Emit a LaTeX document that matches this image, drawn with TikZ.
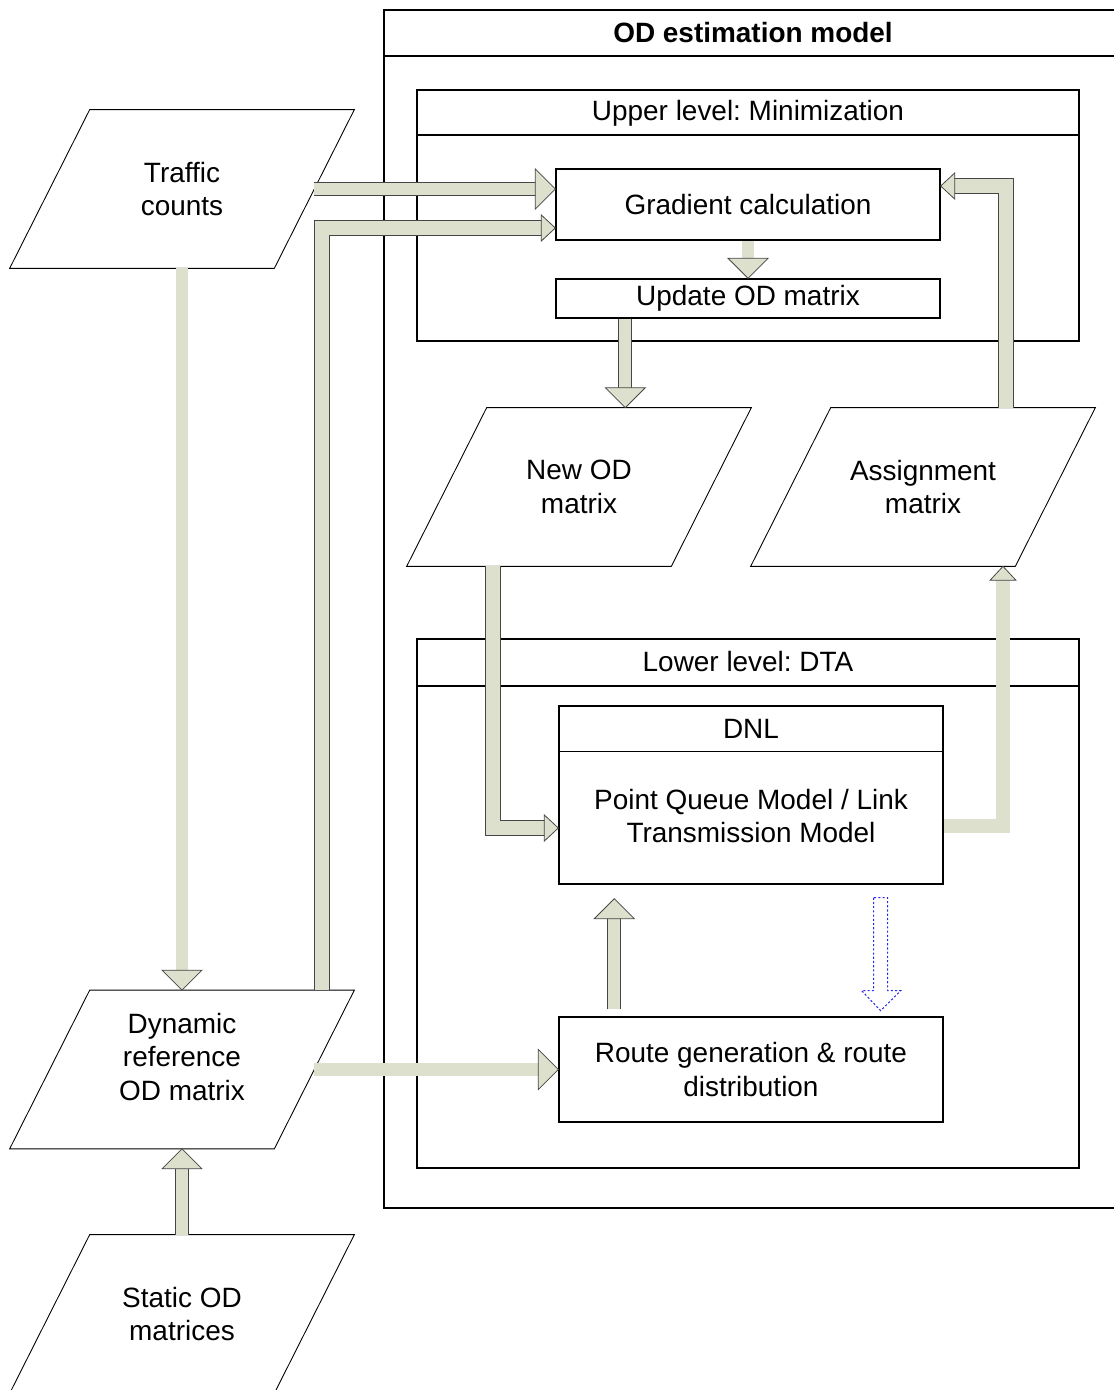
\documentclass[tikz,border=0pt]{standalone}
\usepackage{fontspec}
\setmainfont{Liberation Sans}
\usetikzlibrary{calc}
\definecolor{shaftfill}{RGB}{221,224,204}
\definecolor{shaftline}{RGB}{70,70,70}
\definecolor{dotblue}{RGB}{40,40,230}
\newcommand\ioframe[1]{\draw[line width=0.5pt] ($(#1.north west)+(40,0)$) -- ($(#1.north east)+(40,0)$)
  -- ($(#1.south east)+(-40,0)$) -- ($(#1.south west)+(-40,0)$) -- cycle;}
\frenchspacing

\begin{document}
\begin{tikzpicture}[x=0.02cm,y=-0.02cm,
      every node/.style={font=\fontsize{15.9}{19}\selectfont,align=center},
      box/.style={draw,line width=0.8pt,minimum width=7.68cm,inner sep=0pt},
      panel/.style={draw,line width=0.8pt},
      iobox/.style={minimum width=5.28cm,minimum height=3.16cm,inner sep=0pt},
      fat/.style={draw=shaftline,line width=0.45pt,double=shaftfill,double distance=#1},
      tipbig/.style={shorten >=0.38cm},
      tipsmall/.style={shorten >=0.26cm},
      headbig/.pic={\draw[draw=shaftline,line width=0.45pt,fill=shaftfill] (0,0) -- (-20,20) -- (-20,-20) -- cycle;},
      headsmall/.pic={\draw[draw=shaftline,line width=0.45pt,fill=shaftfill] (0,0) -- (-14,13) -- (-14,-13) -- cycle;},
      dotarrow/.style={draw=dotblue,line width=0.6pt,dash pattern=on 1.2pt off 1.2pt}]
    \useasboundingbox (0,0) rectangle (1114,1390);

    \draw[panel] (384,10) rectangle (1120,1208);
    \draw[panel] (384,56) -- (1120,56);
    \node[font=\bfseries\fontsize{15.9}{19}\selectfont] (odtitle) at (753,33) {OD estimation model};

    \draw[panel] (417,90) rectangle (1079,341);
    \draw[panel] (417,135) -- (1079,135);
    \node (uptitle) at (748,113) {Upper level: Minimization};
    \node[box,minimum height=1.42cm] (grad) at (748,204.5) {Gradient calculation};
    \node[box,minimum height=0.78cm] (upd) at (748,298.5) {Update OD matrix};

    \node[iobox] (newod) at (579,487) {New OD\\matrix};
    \ioframe{newod}
    \node[iobox] (asg) at (923,487) {Assignment\\matrix};
    \ioframe{asg}

    \draw[panel] (417,639) rectangle (1079,1168);
    \draw[panel] (417,686) -- (1079,686);
    \node (lotitle) at (748,662) {Lower level: DTA};
    \node[box,minimum height=3.56cm] (dnl) at (751,795) {};
    \draw[line width=0.8pt] ($(dnl.north west)+(0,46)$) -- ($(dnl.north east)+(0,46)$);
    \node (dnltitle) at (751,729) {DNL};
    \node (dnltext) at (751,816) {Point Queue Model / Link\\Transmission Model};
    \node[box,minimum height=2.1cm] (route) at (751,1069.5) {Route generation \& route\\distribution};

    \node[iobox] (tc) at (182,189) {Traffic\\counts};
    \ioframe{tc}
    \node[iobox] (dyn) at (182,1069.5) {};
    \ioframe{dyn}
    \node (dyntext) at (182,1057) {Dynamic\\reference\\OD matrix};
    \node[iobox] (st) at (182,1314) {Static OD\\matrices};
    \ioframe{st}

    \coordinate (railL) at (322,0);
    \coordinate (railR) at (1006,0);
    \coordinate (railN) at (493,0);
    \coordinate (railA) at (1003,0);

    \draw[fat=6.9pt,tipbig] (tc.east) -- (tc.east -| grad.west);
    \pic at (tc.east -| grad.west) {headbig};

    \coordinate (g2) at ($(grad.west)+(0,23.5)$);
    \draw[fat=8pt,tipsmall] (railL |- dyn.north) -- (railL |- g2) -- (g2);
    \pic at (g2) {headsmall};

    \draw[fat=6.4pt,tipbig] (grad.south) -- (upd.north);
    \pic[rotate=-90] at (upd.north) {headbig};

    \coordinate (u1) at ($(upd.south west)+(70,0)$);
    \draw[fat=6.9pt,tipbig] (u1) -- (u1 |- newod.north);
    \pic[rotate=-90] at (u1 |- newod.north) {headbig};

    \coordinate (g3) at ($(grad.east)+(0,-18.5)$);
    \draw[fat=8pt,tipsmall] (railR |- asg.north) -- (railR |- g3) -- (g3);
    \pic[rotate=180] at (g3) {headsmall};

    \coordinate (d1) at ($(dnl.west)+(0,33)$);
    \draw[fat=8pt,tipsmall] (railN |- newod.south) -- (railN |- d1) -- (d1);
    \pic at (d1) {headsmall};

    \coordinate (d2) at ($(dnl.east)+(0,31)$);
    \draw[fat=7.5pt,tipsmall] (d2) -- (railA |- d2) -- (railA |- asg.south);
    \pic[rotate=90] at (railA |- asg.south) {headsmall};

    \coordinate (r1) at ($(route.north west)+(56,-7)$);
    \coordinate (r2) at ($(dnl.south west)+(56,14)$);
    \draw[fat=6.9pt,tipbig] (r1) -- (r2);
    \pic[rotate=90] at (r2) {headbig};

    \coordinate (b1) at ($(dnl.south east)+(-63,13)$);
    \draw[dotarrow] ($(b1)+(-7,0)$) -- ++(0,93) -- ++(-12,0) -- ($(b1)+(0,113)$)
      -- ($(b1)+(20,93)$) -- ++(-13,0) -- ($(b1)+(7,0)$) -- cycle;

    \draw[fat=6.4pt,tipbig] (tc.south) -- (dyn.north);
    \pic[rotate=-90] at (dyn.north) {headbig};

    \draw[fat=6.9pt,tipbig] (dyn.east) -- (dyn.east -| route.west);
    \pic at (dyn.east -| route.west) {headbig};

    \draw[fat=6.9pt,tipbig] (st.north) -- (dyn.south);
    \pic[rotate=90] at (dyn.south) {headbig};
  \end{tikzpicture}
\end{document}
